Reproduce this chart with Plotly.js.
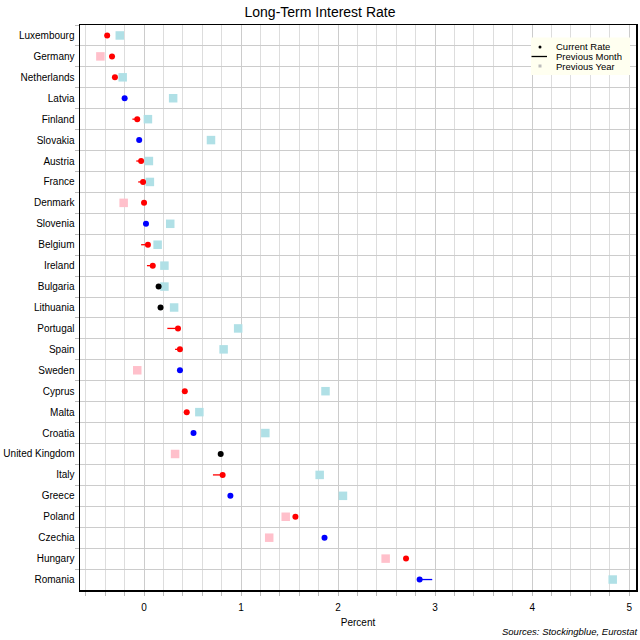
<!DOCTYPE html>
<html><head><meta charset="utf-8">
<script src="https://cdn.plot.ly/plotly-3.0.1.min.js"></script>
<style>html,body{margin:0;padding:0;background:#fff}#chart{width:640px;height:640px}</style>
</head><body><div id="chart"></div>
<script>
const countries = ["Luxembourg","Germany","Netherlands","Latvia","Finland","Slovakia","Austria","France","Denmark","Slovenia","Belgium","Ireland","Bulgaria","Lithuania","Portugal","Spain","Sweden","Cyprus","Malta","Croatia","United Kingdom","Italy","Greece","Poland","Czechia","Hungary","Romania"];
const currentRate = [-0.38,-0.33,-0.30,-0.20,-0.07,-0.05,-0.03,-0.01,0.00,0.02,0.04,0.09,0.15,0.17,0.35,0.37,0.37,0.42,0.44,0.51,0.79,0.81,0.89,1.56,1.86,2.70,2.84];
const previousMonth = [-0.39,-0.36,-0.33,-0.19,-0.12,-0.04,-0.08,-0.06,-0.02,0.03,-0.03,0.03,0.15,0.17,0.24,0.32,0.40,0.41,0.41,0.52,0.79,0.71,0.91,1.55,1.87,2.69,2.97];
const previousYear = [-0.25,-0.45,-0.22,0.30,0.04,0.69,0.05,0.06,-0.21,0.27,0.14,0.21,0.21,0.31,0.97,0.82,-0.07,1.87,0.57,1.25,0.32,1.81,2.05,1.46,1.29,2.49,4.83];
const legendLabels = ["Current Rate","Previous Month","Previous Year"];

const dotColors = currentRate.map((c,i)=> c>previousMonth[i] ? 'red' : (c<previousMonth[i] ? 'blue' : 'black'));
const yearColors = currentRate.map((c,i)=> previousYear[i]>c ? '#b0e0e6' : '#ffc0cb');

function segs(color){
  const x=[], y=[];
  countries.forEach((n,i)=>{ if(dotColors[i]===color){ x.push(previousMonth[i],currentRate[i],null); y.push(n,n,null);} });
  return {type:'scatter',mode:'lines',x:x,y:y,line:{color:color,width:1.3},showlegend:false,hoverinfo:'skip'};
}

const traces = [
  {type:'scatter',mode:'markers',x:previousYear,y:countries,marker:{symbol:'square',size:8.5,color:yearColors},showlegend:false},
  segs('red'), segs('blue'),
  {type:'scatter',mode:'markers',x:currentRate,y:countries,marker:{symbol:'circle',size:6,color:dotColors},showlegend:false}
];

// manual legend (pixel positions converted to paper coords)
const W=640,H=640,ml=80,mr=4,mt=25,mb=50;
const pw=W-ml-mr, ph=H-mt-mb;
const px=x=>(x-ml)/pw, py=y=>(H-mb-y)/ph;
const shapes = [
  {type:'rect',xref:'paper',yref:'paper',x0:px(531),x1:px(630),y0:py(37.5),y1:py(75),fillcolor:'#fffff0',line:{width:0},layer:'above'},
  {type:'circle',xref:'paper',yref:'paper',x0:px(538.5),x1:px(541.5),y0:py(45.5),y1:py(48.5),fillcolor:'#000',line:{width:0},layer:'above'},
  {type:'line',xref:'paper',yref:'paper',x0:px(531.5),x1:px(547),y0:py(56.5),y1:py(56.5),line:{color:'#000',width:1.3},layer:'above'},
  {type:'rect',xref:'paper',yref:'paper',x0:px(538.5),x1:px(541.5),y0:py(64.5),y1:py(67.5),fillcolor:'#bbbbbb',line:{width:0},layer:'above'}
];
const annotations = legendLabels.map((t,i)=>({text:t,xref:'paper',yref:'paper',x:px(554),xanchor:'left',y:py(47.5+9.8*i),yanchor:'middle',height:9.8,showarrow:false,font:{size:9.5,color:'#000'}}));
annotations.push({text:'<i>Sources: Stockingblue, Eurostat</i>',xref:'paper',yref:'paper',x:px(639.5),xanchor:'right',y:py(631),yanchor:'middle',showarrow:false,font:{size:9.5}});

const layout = {
  width:W,height:H,
  margin:{l:ml,r:mr,t:mt,b:mb},
  paper_bgcolor:'#fff',plot_bgcolor:'#fff',showlegend:false,
  font:{family:'Liberation Sans, Arial, sans-serif',size:10,color:'#000'},
  title:{text:'Long-Term Interest Rate',font:{size:14,color:'#000'},x:0.5,xanchor:'center',y:0.989,yanchor:'top'},
  xaxis:{range:[-0.66,5.07],dtick:1,tick0:0,showgrid:true,gridcolor:'#cccccc',gridwidth:1,zeroline:false,
    showline:true,linecolor:'#000',linewidth:1.5,mirror:true,ticks:'outside',ticklen:4,tickcolor:'#bbb',ticklabelstandoff:3,
    minor:{dtick:0.2,tick0:0,showgrid:true,gridcolor:'#dddddd',gridwidth:1,ticks:'outside',ticklen:4,tickcolor:'#bbb'},
    title:{text:'Percent',font:{size:10},standoff:7}},
  yaxis:{type:'category',categoryorder:'array',categoryarray:countries,range:[26.5,-0.5],autorange:false,tickson:'boundaries',
    showgrid:true,gridcolor:'#cccccc',gridwidth:1,showline:true,linecolor:'#000',linewidth:1.5,mirror:true,
    ticks:'outside',ticklen:4,tickcolor:'#bbb',ticklabelstandoff:2},
  shapes:shapes,
  annotations:annotations
};
Plotly.newPlot('chart',traces,layout,{displayModeBar:false,staticPlot:true});
</script></body></html>
